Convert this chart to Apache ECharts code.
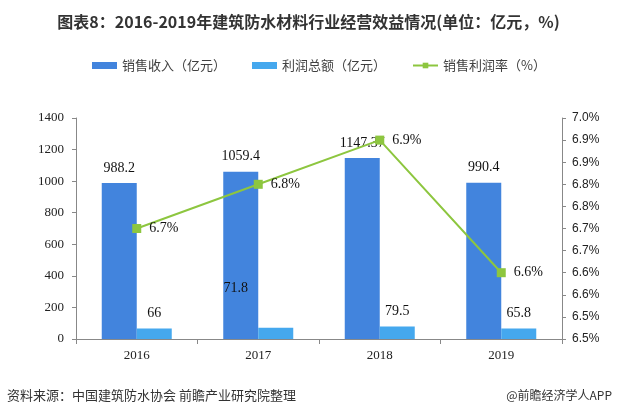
<!DOCTYPE html>
<html><head><meta charset="utf-8">
<script src="https://cdn.jsdelivr.net/npm/echarts@6/dist/echarts.min.js"></script>
<style>html,body{margin:0;padding:0;background:#fff}#c{width:617px;height:416px}</style>
</head><body><div id="c"></div>
<script>
var categories = ['2016', '2017', '2018', '2019'];
var revenue = [988.2, 1059.4, 1147.37, 990.4];
var profit = [66, 71.8, 79.5, 65.8];
var margin = [6.75, 6.85, 6.95, 6.65];
var leftTicks = [0, 1400, 200];
var rightTicks = [6.5, 7.0, 0.05];

function pct(v){ return (Math.floor(v*10 + 1e-6)/10).toFixed(1) + '%'; }

var chart = echarts.init(document.getElementById('c'));
var serif = 'Liberation Serif';
var sans = 'Microsoft YaHei, Noto Sans CJK SC, sans-serif';
chart.setOption({
  animation: false,
  title: {
    text: '图表8：2016-2019年建筑防水材料行业经营效益情况(单位：亿元，%)',
    left: 'center', top: 9,
    textStyle: {fontSize: 16, fontWeight: 'bold', color: '#333', fontFamily: sans}
  },
  legend: {
    top: 54, left: 87, itemGap: 26, itemWidth: 25, itemHeight: 7,
    textStyle: {fontSize: 13, color: '#404040', fontFamily: sans},
    data: [
      {name: '销售收入（亿元）', icon: 'rect'},
      {name: '利润总额（亿元）', icon: 'rect'},
      {name: '销售利润率（%）'}
    ]
  },
  grid: {left: 76, right: 55, top: 118, bottom: 77},
  xAxis: {
    type: 'category', data: categories,
    axisLine: {lineStyle: {color: '#888'}},
    axisTick: {show: true, alignWithLabel: false, lineStyle: {color: '#888'}},
    axisLabel: {fontFamily: serif, fontSize: 13, color: '#222', margin: 10}
  },
  yAxis: [
    {
      type: 'value', min: leftTicks[0], max: leftTicks[1], interval: leftTicks[2],
      axisLine: {show: true, lineStyle: {color: '#888'}},
      axisTick: {show: true, inside: false, length: 4, lineStyle: {color: '#888'}},
      splitLine: {show: false},
      axisLabel: {fontFamily: serif, fontSize: 13, color: '#222', margin: 12, formatter: function(v){ return String(v); }}
    },
    {
      type: 'value', min: rightTicks[0], max: rightTicks[1], interval: rightTicks[2],
      position: 'right',
      axisLine: {show: true, lineStyle: {color: '#888'}},
      axisTick: {show: true, length: 4, lineStyle: {color: '#888'}},
      splitLine: {show: false},
      axisLabel: {fontFamily: 'Liberation Sans', fontSize: 12, color: '#222', margin: 10, formatter: pct}
    }
  ],
  series: [
    {
      name: '销售收入（亿元）', type: 'bar', data: revenue,
      barWidth: 35, barGap: '0%',
      itemStyle: {color: '#4284DD'},
      label: {show: true, position: 'top', distance: 8, fontFamily: serif, fontSize: 14, color: '#111'}
    },
    {
      name: '利润总额（亿元）', type: 'bar',
      data: profit.map(function(v, i){
        return i === 1 ? {value: v, label: {offset: [-40, -24]}} : v;
      }),
      barWidth: 35,
      itemStyle: {color: '#45A8EE'},
      label: {show: true, position: 'top', distance: 8, fontFamily: serif, fontSize: 14, color: '#111'}
    },
    {
      name: '销售利润率（%）', type: 'line', yAxisIndex: 1, data: margin,
      symbol: 'rect', symbolSize: 9,
      lineStyle: {color: '#8DC63F', width: 2},
      itemStyle: {color: '#8DC63F'},
      label: {show: true, position: 'right', distance: 8, fontFamily: serif, fontSize: 14, color: '#111', formatter: function(p){ return pct(p.value); }}
    }
  ],
  graphic: [
    {type: 'text', left: 7, top: 389, style: {text: '资料来源：中国建筑防水协会 前瞻产业研究院整理', fontSize: 13, fill: '#333', fontFamily: sans}},
    {type: 'text', right: 5, top: 389, style: {text: '@前瞻经济学人APP', fontSize: 12, fill: '#333', fontFamily: sans}}
  ]
});
</script></body></html>
